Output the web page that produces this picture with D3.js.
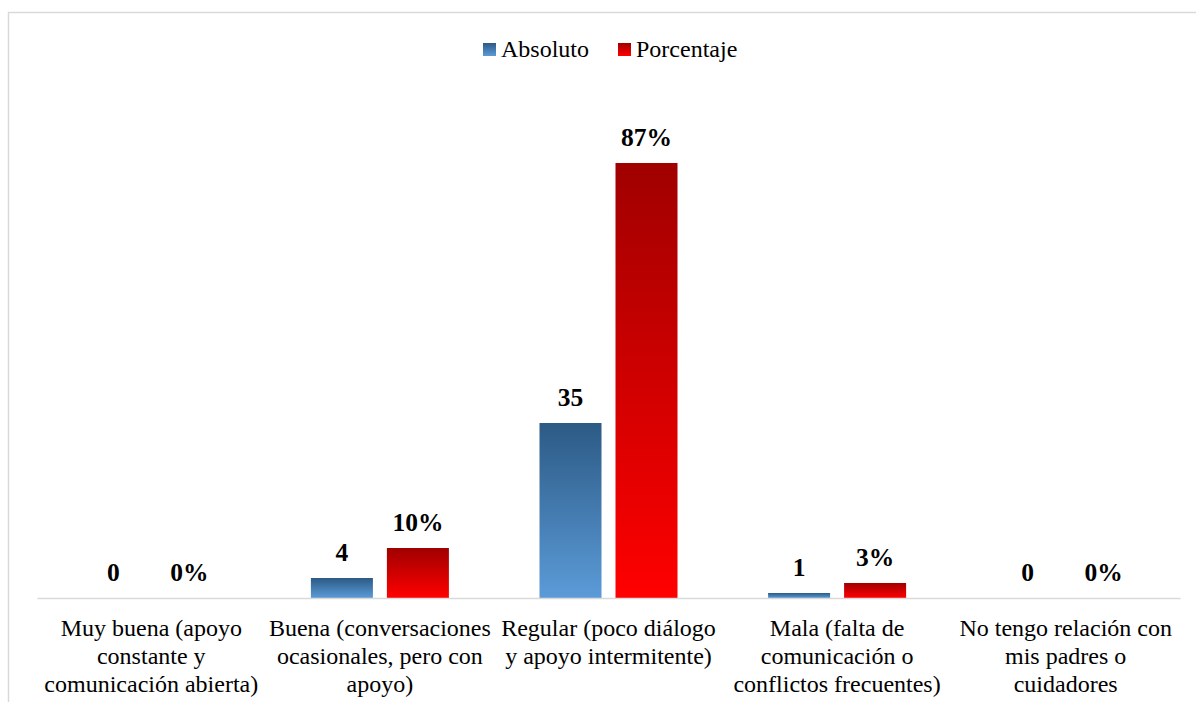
<!DOCTYPE html>
<html>
<head>
<meta charset="utf-8">
<script src="https://cdn.jsdelivr.net/npm/d3@7"></script>
<style>
html,body{margin:0;padding:0;background:#fff;}
svg{display:block;}
</style>
</head>
<body>
<svg id="chart" width="1196" height="702"></svg>
<script>
const categories = [
  "Muy buena (apoyo constante y comunicación abierta)",
  "Buena (conversaciones ocasionales, pero con apoyo)",
  "Regular (poco diálogo y apoyo intermitente)",
  "Mala (falta de comunicación o conflictos frecuentes)",
  "No tengo relación con mis padres o cuidadores"
];
const categoryLines = [
  ["Muy buena (apoyo", "constante y", "comunicación abierta)"],
  ["Buena (conversaciones", "ocasionales, pero con", "apoyo)"],
  ["Regular (poco diálogo", "y apoyo intermitente)"],
  ["Mala (falta de", "comunicación o", "conflictos frecuentes)"],
  ["No tengo relación con", "mis padres o", "cuidadores"]
];
const seriesNames = ["Absoluto", "Porcentaje"];
const absoluto = [0, 4, 35, 1, 0];
const porcentaje = [0, 10, 87, 3, 0];
const absolutoLabels = ["0", "4", "35", "1", "0"];
const porcentajeLabels = ["0%", "10%", "87%", "3%", "0%"];

const FONT = '"Liberation Serif","Times New Roman",Tinos,serif';
const svg = d3.select("#chart");

const defs = svg.append("defs");
function grad(id, top, bottom) {
  const g = defs.append("linearGradient").attr("id", id).attr("x1", 0).attr("y1", 0).attr("x2", 0).attr("y2", 1);
  g.append("stop").attr("offset", "0%").attr("stop-color", top);
  g.append("stop").attr("offset", "100%").attr("stop-color", bottom);
}
grad("gBlue", "#2c5a85", "#5b9bd8");
grad("gRed", "#a00000", "#ff0000");
const fills = ["url(#gBlue)", "url(#gRed)"];

svg.append("rect").attr("x", 8.5).attr("y", 12.5).attr("width", 1200).attr("height", 700)
  .attr("fill", "none").attr("stroke", "#d9d9d9").attr("stroke-width", 1.5);

const x0 = d3.scaleBand().domain(d3.range(categories.length)).range([37, 1180]).padding(0);
const y = d3.scaleLinear().domain([0, 100]).range([598, 98]);
const barW = 62, gap = 14;

const data = [absoluto, porcentaje];
const labels = [absolutoLabels, porcentajeLabels];

data.forEach((vals, s) => {
  const g = svg.append("g");
  g.selectAll("rect").data(vals).enter().append("rect")
    .attr("x", (d, i) => x0(i) + x0.bandwidth() / 2 + (s === 0 ? -gap / 2 - barW : gap / 2))
    .attr("y", d => y(d))
    .attr("width", barW)
    .attr("height", d => y(0) - y(d))
    .attr("fill", fills[s]);
  g.selectAll("text").data(vals).enter().append("text")
    .attr("x", (d, i) => x0(i) + x0.bandwidth() / 2 + (s === 0 ? -gap / 2 - barW / 2 : gap / 2 + barW / 2))
    .attr("y", d => y(d) - 17)
    .attr("text-anchor", "middle")
    .style("font-family", FONT)
    .style("font-weight", "bold")
    .style("font-size", "25.5px")
    .attr("fill", "#000")
    .text((d, i) => labels[s][i]);
});

const axis = d3.axisBottom(x0).tickSize(0).tickFormat("");
const ax = svg.append("g").attr("transform", `translate(0,${y(0)})`).call(axis);
ax.select(".domain").attr("stroke", "#d9d9d9").attr("stroke-width", 1.5);

categoryLines.forEach((lines, i) => {
  const t = svg.append("text")
    .attr("text-anchor", "middle")
    .style("font-family", FONT)
    .style("font-size", "24px")
    .attr("fill", "#000");
  lines.forEach((ln, j) => {
    t.append("tspan").attr("x", x0(i) + x0.bandwidth() / 2).attr("y", 636 + j * 28).text(ln);
  });
});

const legend = svg.append("g");
const legX = [483, 618];
seriesNames.forEach((n, s) => {
  legend.append("rect").attr("x", legX[s]).attr("y", 43).attr("width", 13).attr("height", 13).attr("fill", fills[s]);
  legend.append("text").attr("x", legX[s] + 18).attr("y", 56.5)
    .style("font-family", FONT).style("font-size", "24px").attr("fill", "#000").text(n);
});
</script>
</body>
</html>
